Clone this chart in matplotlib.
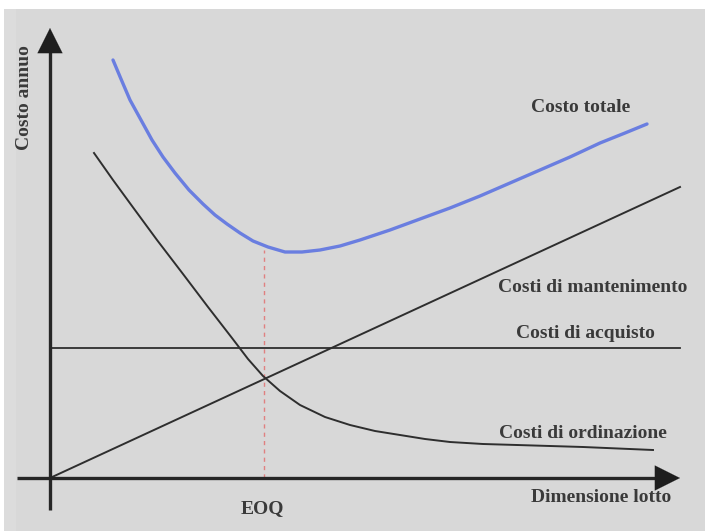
import matplotlib
matplotlib.use("Agg")
import matplotlib.pyplot as plt
from matplotlib.patches import Rectangle

# ---- data (arbitrary units, origin at axes cross) ----
order_q = [44, 63, 82, 107, 133, 158, 182, 198, 213, 230, 250, 275, 300, 325, 350, 375, 400, 433, 467, 500, 533, 568, 603]
order_cost = [325, 298, 272, 238, 204, 171, 140, 119, 102, 87, 73, 61, 53, 47, 43, 39, 36, 34, 33, 32, 31, 29.5, 28]

total_q = [63, 71, 80, 91, 102, 113, 125, 139, 153, 165, 177, 190, 203, 218, 235, 252, 270, 290, 310, 340, 370, 400, 430, 460, 490, 520, 550, 575, 597]
total_cost = [418, 399, 378, 358, 338, 321, 305, 288, 274, 263, 254, 245, 237, 231, 226, 226, 228, 232, 238, 248, 259, 270, 282, 295, 308, 321, 335, 345, 354]

hold_q = [0, 630]
hold_cost = [0, 291]

purch_q = [0, 630]
purch_cost = [130, 130]

eoq_q = 214
eoq_total = 228

labels = {
    "total": "Costo totale",
    "hold": "Costi di mantenimento",
    "purch": "Costi di acquisto",
    "order": "Costi di ordinazione",
    "xlab": "Dimensione lotto",
    "ylab": "Costo annuo",
    "eoq": "EOQ",
}

W, H = 705, 531
fig = plt.figure(figsize=(W / 100, H / 100), dpi=100, facecolor="white")
ax = fig.add_axes([4 / W, 0, (W - 4) / W, (H - 9) / H])
ax.set_facecolor("#d8d8d8")
ax.set_xlim(4 - 50, W - 50)
ax.set_ylim(478 - H, 478 - 9)
ax.set_xticks([])
ax.set_yticks([])
for s in ax.spines.values():
    s.set_visible(False)

# faint lighter band on left
ax.add_patch(Rectangle((-46, -60), 12, 540, facecolor="#dcdcdc", edgecolor="none", zorder=0))

serif = ["Liberation Serif", "DejaVu Serif"]
tc = "#3a3a3a"
lc = "#2e2e2e"

# axes with arrows
ax.plot([0, 0], [-32, 440], color="#262626", lw=2.4, solid_capstyle="butt", zorder=3)
ax.annotate("", xy=(0, 450), xytext=(0, 420),
            arrowprops=dict(arrowstyle="-|>,head_length=0.9,head_width=0.45", lw=0.1, color="#1e1e1e",
                            mutation_scale=20, shrinkA=0, shrinkB=0), zorder=4)
ax.plot([-33, 620], [0, 0], color="#262626", lw=2.4, solid_capstyle="butt", zorder=3)
ax.annotate("", xy=(630, 0), xytext=(600, 0),
            arrowprops=dict(arrowstyle="-|>,head_length=0.9,head_width=0.45", lw=0.1, color="#1e1e1e",
                            mutation_scale=20, shrinkA=0, shrinkB=0), zorder=4)

# EOQ dashed line
ax.plot([eoq_q, eoq_q], [0, eoq_total], color="#e08080", lw=1.0, ls=(0, (3, 3)), zorder=2)

# cost curves
ax.plot(purch_q, purch_cost, color=lc, lw=1.3, zorder=2)
ax.plot(hold_q, hold_cost, color=lc, lw=1.4, zorder=2)
ax.plot(order_q, order_cost, color=lc, lw=1.4, zorder=2, solid_joinstyle="round")
ax.plot(total_q, total_cost, color="#6a7ee0", lw=2.4, zorder=2, solid_capstyle="round",
        solid_joinstyle="round")

# texts
kw = dict(family=serif, fontweight="bold", color=tc, fontsize=14, ha="center", va="center")
ax.text(531, 370, labels["total"], **kw)
ax.text(543, 190, labels["hold"], **kw)
ax.text(535, 145, labels["purch"], **kw)
ax.text(533, 44, labels["order"], **kw)
ax.text(551, -19, labels["xlab"], **kw)
ax.text(212, -31, labels["eoq"], **kw)
ax.text(-25, 380, labels["ylab"], rotation=90, **kw)

fig.savefig("out.png", dpi=100, facecolor="white")
